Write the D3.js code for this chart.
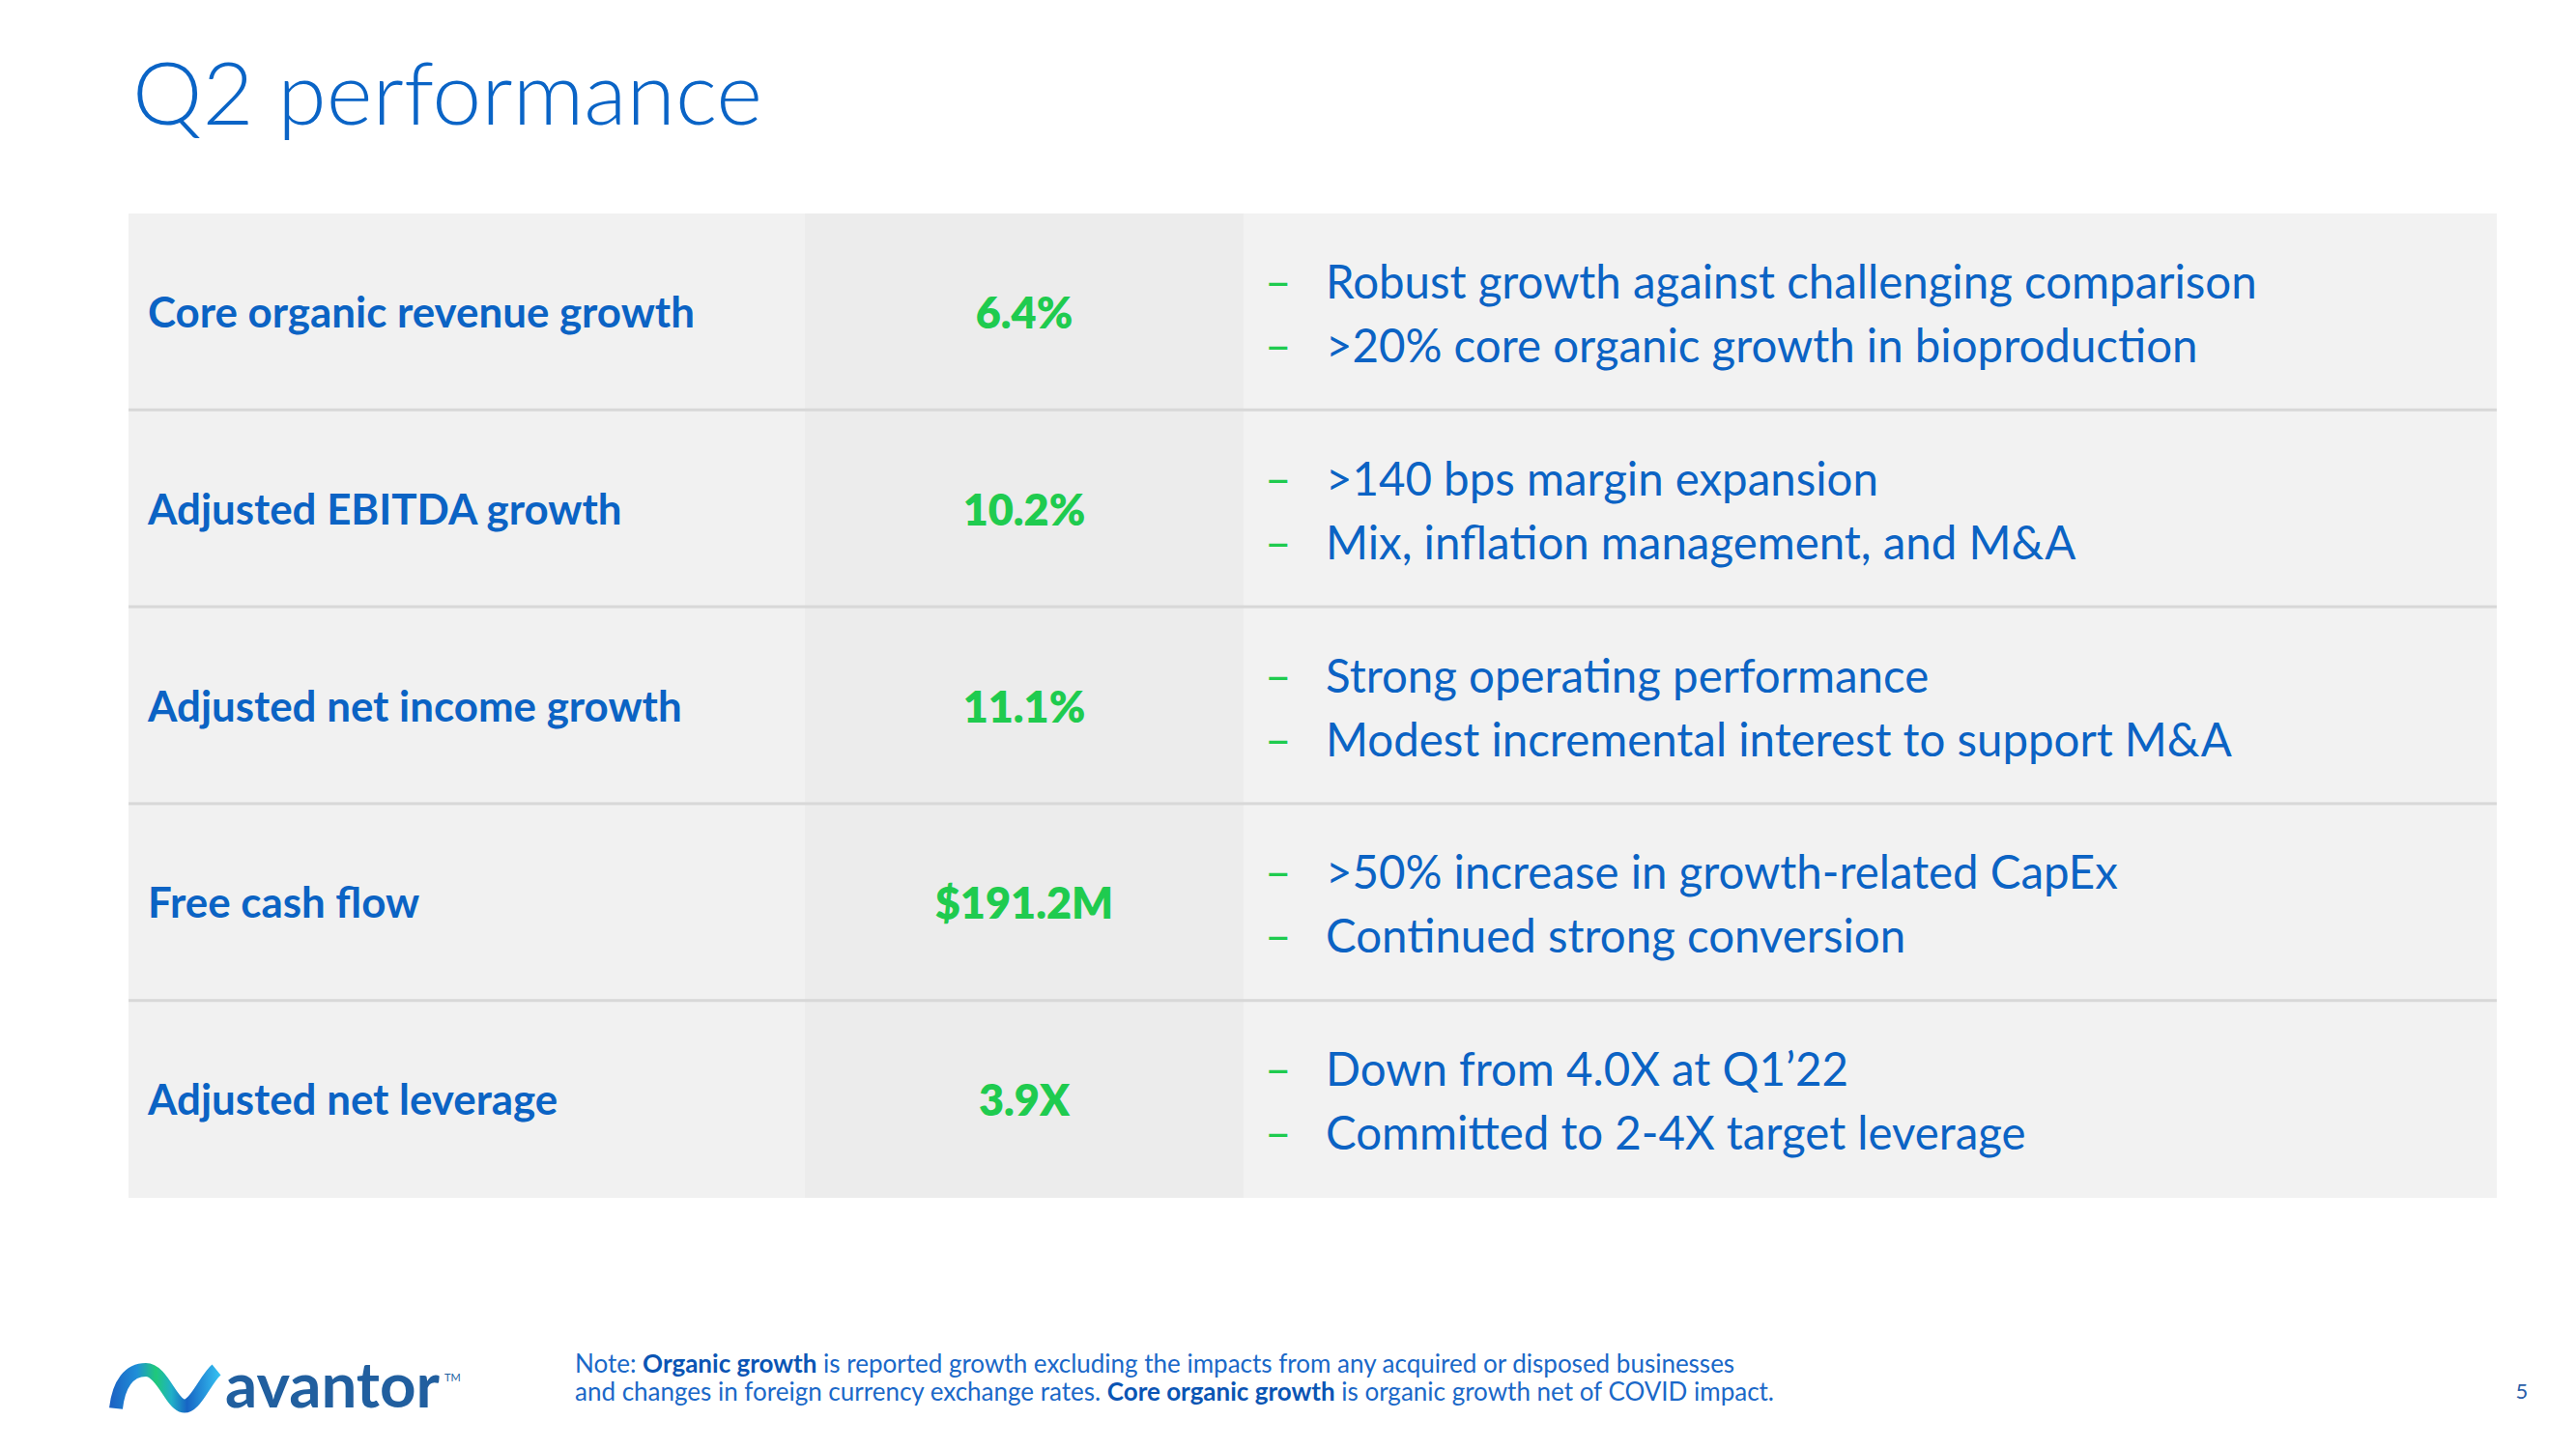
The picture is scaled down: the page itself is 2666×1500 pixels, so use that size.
<!DOCTYPE html>
<html>
<head>
<meta charset="utf-8">
<script src="https://cdn.jsdelivr.net/npm/d3@7"></script>
<style>
  html, body { margin: 0; padding: 0; background: #ffffff; }
  svg { display: block; }
</style>
</head>
<body>
<svg id="chart" width="2666" height="1500"></svg>
<script>
// ---------- DATA ----------
const title = "Q2 performance";
const metrics = [
  "Core organic revenue growth",
  "Adjusted EBITDA growth",
  "Adjusted net income growth",
  "Free cash flow",
  "Adjusted net leverage"
];
const values = ["6.4%", "10.2%", "11.1%", "$191.2M", "3.9X"];
const bulletsFirst = [
  "Robust growth against challenging comparison",
  ">140 bps margin expansion",
  "Strong operating performance",
  ">50% increase in growth-related CapEx",
  "Down from 4.0X at Q1\u201922"
];
const bulletsSecond = [
  ">20% core organic growth in bioproduction",
  "Mix, inflation management, and M&A",
  "Modest incremental interest to support M&A",
  "Continued strong conversion",
  "Committed to 2-4X target leverage"
];
const noteLine1 = [
  {t: "Note: ", b: false},
  {t: "Organic growth", b: true},
  {t: " is reported growth excluding the impacts from any acquired or disposed businesses", b: false}
];
const noteLine2 = [
  {t: "and changes in foreign currency exchange rates. ", b: false},
  {t: "Core organic growth", b: true},
  {t: " is organic growth net of COVID impact.", b: false}
];
const pageNumber = "5";

// ---------- STYLE ----------
const FONT = "Lato, 'Open Sans', sans-serif";
const BLUE = "#0a64c6";
const BLUE_TEXT = "#0b63c4";
const GREEN = "#1fcb4f";
const LOGO_BLUE = "#215f9f";

const svg = d3.select("#chart");

function measure(str, weight, size) {
  const t = svg.append("text").attr("font-family", FONT).attr("font-weight", weight)
    .attr("font-size", size).text(str);
  const w = t.node().getComputedTextLength();
  t.remove();
  return w;
}
function fitSize(str, weight, target) {
  const base = 100;
  return base * target / measure(str, weight, base);
}

// ---------- LAYOUT ----------
const tableLeft = 133, tableRight = 2584, tableTop = 221, tableBottom = 1240;
const col1 = 133, col2 = 833, col3 = 1287;

const y = d3.scaleBand().domain(metrics).range([tableTop, tableBottom]).padding(0);

// Title
const titleSize = fitSize(title, 300, 652);
svg.append("text")
  .attr("x", 137).attr("y", 129)
  .attr("font-family", FONT).attr("font-weight", 300)
  .attr("font-size", titleSize).attr("fill", BLUE)
  .text(title);

// Column backgrounds
const cols = [
  {x0: col1, x1: col2, fill: "#f1f1f1"},
  {x0: col2, x1: col3, fill: "#ececec"},
  {x0: col3, x1: tableRight, fill: "#f2f2f2"}
];
svg.append("g").selectAll("rect").data(cols).join("rect")
  .attr("x", d => d.x0).attr("width", d => d.x1 - d.x0)
  .attr("y", tableTop).attr("height", tableBottom - tableTop)
  .attr("fill", d => d.fill);

// Row dividers
svg.append("g").selectAll("rect").data(metrics.slice(1)).join("rect")
  .attr("x", tableLeft).attr("width", tableRight - tableLeft)
  .attr("y", d => y(d) - 2).attr("height", 3)
  .attr("fill", "#d8d8d8");

const labelSize = fitSize(metrics[0], 700, 566);
const valueSize = 45;
const bulletSize = fitSize(bulletsFirst[0], 400, 964);

const rows = svg.append("g").selectAll("g").data(metrics).join("g")
  .attr("transform", d => `translate(0,${y(d) + y.bandwidth() / 2})`);

rows.append("text")
  .attr("x", 153).attr("y", 16)
  .attr("font-family", FONT).attr("font-weight", 700)
  .attr("font-size", labelSize).attr("fill", BLUE_TEXT)
  .text(d => d);

rows.append("text")
  .attr("x", (col2 + col3) / 2).attr("y", 17)
  .attr("text-anchor", "middle")
  .attr("font-family", FONT).attr("font-weight", 800)
  .attr("font-size", valueSize).attr("fill", GREEN)
  .text((d, i) => values[i]);

[[bulletsFirst, -14], [bulletsSecond, 52]].forEach(([arr, dy]) => {
  rows.append("text")
    .attr("x", 1309).attr("y", dy)
    .attr("font-family", FONT).attr("font-weight", 400)
    .attr("font-size", bulletSize).attr("fill", GREEN)
    .text("\u2013");
  rows.append("text")
    .attr("x", 1372).attr("y", dy)
    .attr("font-family", FONT).attr("font-weight", 400)
    .attr("font-size", bulletSize).attr("fill", BLUE_TEXT)
    .text((d, i) => arr[i]);
});

// Footnote
const noteSize = (function () {
  const t = svg.append("text").attr("font-family", FONT).attr("font-size", 100);
  t.selectAll("tspan").data(noteLine1).join("tspan")
    .attr("font-weight", d => d.b ? 700 : 400).text(d => d.t);
  const w = t.node().getComputedTextLength();
  t.remove();
  return 100 * 1201 / w;
})();
[[noteLine1, 1421], [noteLine2, 1450]].forEach(([line, yy]) => {
  const t = svg.append("text")
    .attr("x", 595).attr("y", yy)
    .attr("font-family", FONT).attr("font-size", noteSize).attr("fill", "#1463c4");
  t.selectAll("tspan").data(line).join("tspan")
    .attr("font-weight", d => d.b ? 700 : 400)
    .attr("fill", d => d.b ? "#0a55b4" : "#1a68c8")
    .text(d => d.t);
});

// Page number
svg.append("text")
  .attr("x", 2610).attr("y", 1448).attr("text-anchor", "middle")
  .attr("font-family", FONT).attr("font-size", 22).attr("fill", "#2a5ea8")
  .text(pageNumber);

// Logo
const defs = svg.append("defs");
const g1 = defs.append("linearGradient").attr("id", "logoGrad1")
  .attr("gradientUnits", "userSpaceOnUse")
  .attr("x1", 113).attr("x2", 228).attr("y1", 0).attr("y2", 0);
g1.append("stop").attr("offset", "0%").attr("stop-color", "#1b5fc2");
g1.append("stop").attr("offset", "25%").attr("stop-color", "#1f8fd8");
g1.append("stop").attr("offset", "42%").attr("stop-color", "#1fc97a");
g1.append("stop").attr("offset", "56%").attr("stop-color", "#20b0c8");
g1.append("stop").attr("offset", "70%").attr("stop-color", "#1765c4");
g1.append("stop").attr("offset", "100%").attr("stop-color", "#35c3f2");

const logo = svg.append("g");
logo.append("path")
  .attr("d", "M120,1458 C123,1432 134,1418 151,1418 C167,1418 176,1450 188,1455 C201,1460 212,1428 224,1418")
  .attr("fill", "none").attr("stroke", "url(#logoGrad1)")
  .attr("stroke-width", 14).attr("stroke-linecap", "butt");

const logoSize = fitSize("avantor", 700, 222);
logo.append("text")
  .attr("x", 233).attr("y", 1457)
  .attr("font-family", FONT).attr("font-weight", 700)
  .attr("font-size", logoSize).attr("fill", LOGO_BLUE)
  .text("avantor");
logo.append("text")
  .attr("x", 460).attr("y", 1430)
  .attr("font-family", FONT).attr("font-weight", 400)
  .attr("font-size", 11).attr("fill", LOGO_BLUE)
  .text("TM");
</script>
</body>
</html>
